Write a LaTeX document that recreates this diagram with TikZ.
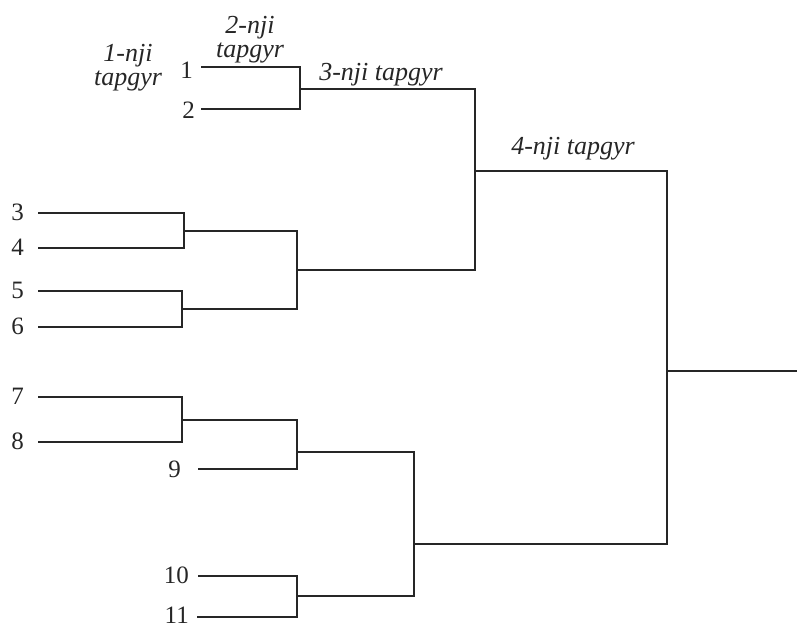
\documentclass[tikz,border=0pt]{standalone}
\usepackage{fontspec}
\setmainfont{Liberation Serif}
\begin{document}
\begin{tikzpicture}[x=1pt,y=-1pt,
  br/.style={line width=2.3pt, line cap=rect, black!85},
  num/.style={font=\fontsize{25}{28}\selectfont, anchor=east, inner sep=0pt, black!85},
  rnd/.style={font=\fontsize{26}{24}\selectfont\itshape, anchor=base, inner sep=0pt, align=center, black!85}]
\useasboundingbox (0,0) rectangle (797,628);
% leaf starts
\coordinate (s1) at (202,67);  \coordinate (e1) at (300,67);
\coordinate (s2) at (202,109); \coordinate (e2) at (300,109);
\coordinate (s3) at (39,213);  \coordinate (e3) at (184,213);
\coordinate (s4) at (39,248);  \coordinate (e4) at (184,248);
\coordinate (s5) at (39,291);  \coordinate (e5) at (182,291);
\coordinate (s6) at (39,327);  \coordinate (e6) at (182,327);
\coordinate (s7) at (39,397);  \coordinate (e7) at (182,397);
\coordinate (s8) at (39,442);  \coordinate (e8) at (182,442);
\coordinate (s9) at (199,469); \coordinate (e9) at (297,469);
\coordinate (s10) at (199,576); \coordinate (e10) at (297,576);
\coordinate (s11) at (198,617); \coordinate (e11) at (297,617);
% junction outputs
\coordinate (j12) at (300,89);  \coordinate (j12e) at (475,89);
\coordinate (j34) at (184,231); \coordinate (j34e) at (297,231);
\coordinate (j56) at (182,309); \coordinate (j56e) at (297,309);
\coordinate (j36) at (297,270); \coordinate (j36e) at (475,270);
\coordinate (j16) at (475,171); \coordinate (j16e) at (667,171);
\coordinate (j78) at (182,420); \coordinate (j78e) at (297,420);
\coordinate (j79) at (297,452); \coordinate (j79e) at (414,452);
\coordinate (j1011) at (297,596); \coordinate (j1011e) at (414,596);
\coordinate (j711) at (414,544); \coordinate (j711e) at (667,544);
\coordinate (jf) at (667,371);  \coordinate (jfe) at (797,371);
% numbers
\node[num] (n1) at (193,70) {1};
\node[num] (n2) at (195,110) {2};
\node[num] (n3) at (24,212) {3};
\node[num] (n4) at (24,247) {4};
\node[num] (n5) at (24,290) {5};
\node[num] (n6) at (24,326) {6};
\node[num] (n7) at (24,396) {7};
\node[num] (n8) at (24,441) {8};
\node[num] (n9) at (181,469) {9};
\node[num] (n10) at (189,575) {10};
\node[num] (n11) at (189,615) {11};
% round labels
\node[rnd] (r1) at (128,86) {1-nji\\tapgyr};
\node[rnd] (r2) at (250,58) {2-nji\\tapgyr};
\node[rnd] (r3) at (381,81) {3-nji tapgyr};
\node[rnd] (r4) at (573,155) {4-nji tapgyr};
% bracket lines
\draw[br] (s1) -- (e1) -- (e2) -- (s2);
\draw[br] (j12) -- (j12e);
\draw[br] (s3) -- (e3) -- (e4) -- (s4);
\draw[br] (s5) -- (e5) -- (e6) -- (s6);
\draw[br] (j34) -- (j34e) -- (j56e) -- (j56);
\draw[br] (j36) -- (j36e);
\draw[br] (j12e) -- (j36e);
\draw[br] (j16) -- (j16e);
\draw[br] (s7) -- (e7) -- (e8) -- (s8);
\draw[br] (j78) -- (j78e) -- (e9) -- (s9);
\draw[br] (j79) -- (j79e);
\draw[br] (s10) -- (e10) -- (e11) -- (s11);
\draw[br] (j1011) -- (j1011e);
\draw[br] (j79e) -- (j1011e);
\draw[br] (j711) -- (j711e);
\draw[br] (j16e) -- (j711e);
\draw[br] (jf) -- (jfe);
\end{tikzpicture}
\end{document}
